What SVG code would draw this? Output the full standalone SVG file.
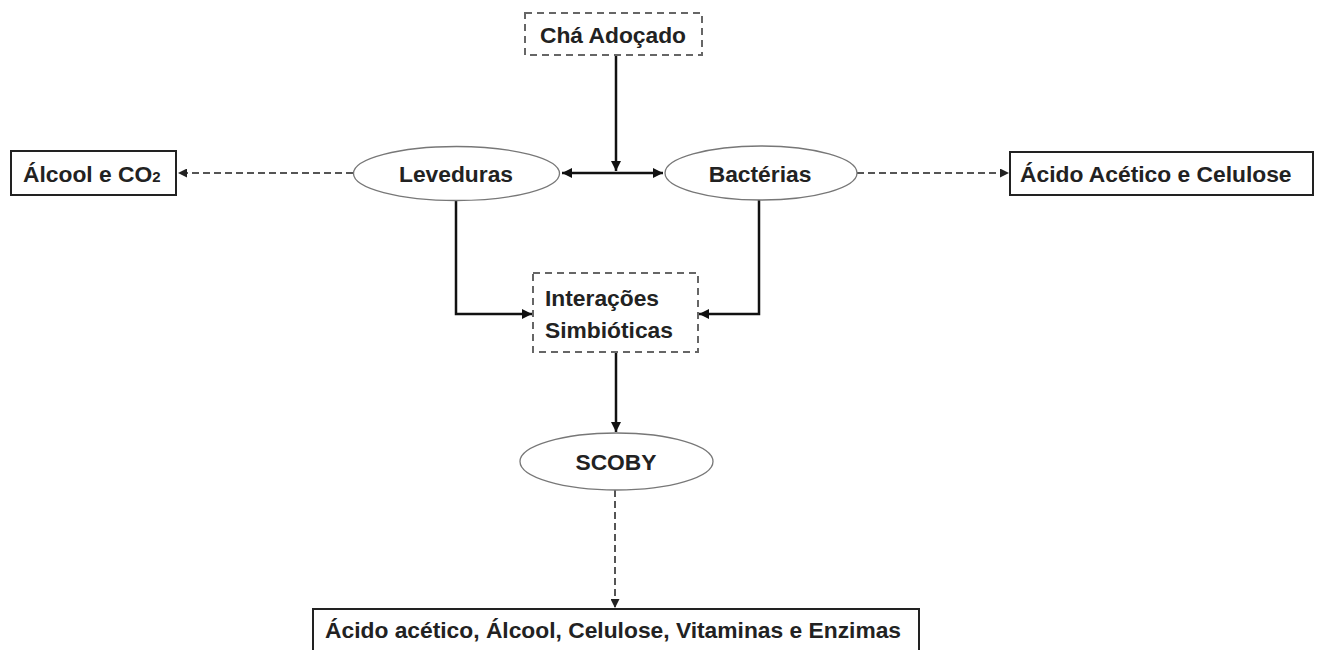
<svg xmlns="http://www.w3.org/2000/svg" width="1322" height="650" viewBox="0 0 1322 650">
<style>
.t{font-family:"Liberation Sans",Arial,sans-serif;font-weight:bold;font-size:22.8px;fill:#222}
.box{fill:#fff;stroke:#222;stroke-width:2}
.dbox{fill:#fff;stroke:#666;stroke-width:2;stroke-dasharray:7 5}
.ell{fill:#fff;stroke:#777;stroke-width:1.3}
.solid{fill:none;stroke:#111;stroke-width:2.5}
.dash{fill:none;stroke:#555;stroke-width:2;stroke-dasharray:7 4}
</style>
<defs>
<marker id="ah" viewBox="0 0 10 10" refX="10" refY="5" markerWidth="4" markerHeight="4" orient="auto" markerUnits="strokeWidth">
<path d="M0,0 L10,5 L0,10 z" fill="#111"/>
</marker>
<marker id="ahd" viewBox="0 0 10 10" refX="10" refY="5" markerWidth="4.5" markerHeight="4.5" orient="auto" markerUnits="strokeWidth">
<path d="M0,0 L10,5 L0,10 z" fill="#222"/>
</marker>
</defs>
<rect width="1322" height="650" fill="#fff"/>
<g id="connectors">
<path class="solid" d="M616,55 V171" marker-end="url(#ah)"/>
<path class="solid" d="M616,173 H562" marker-end="url(#ah)"/>
<path class="solid" d="M616,173 H663" marker-end="url(#ah)"/>
<path class="solid" d="M456,200 V314 H532" marker-end="url(#ah)"/>
<path class="solid" d="M759,200 V314 H699" marker-end="url(#ah)"/>
<path class="solid" d="M616,352 V432" marker-end="url(#ah)"/>
<path class="dash" d="M353,173 H178" marker-end="url(#ahd)"/>
<path class="dash" d="M857,173 H1009" marker-end="url(#ahd)"/>
<path class="dash" d="M615,490 V608" marker-end="url(#ahd)"/>
</g>
<g id="cha">
<rect class="dbox" x="525" y="13" width="177" height="42"/>
<text class="t" x="613" y="43" text-anchor="middle">Chá Adoçado</text>
</g>
<g id="leveduras">
<ellipse class="ell" cx="456.5" cy="173.5" rx="103" ry="27"/>
<text class="t" x="456" y="181.5" text-anchor="middle">Leveduras</text>
</g>
<g id="bacterias">
<ellipse class="ell" cx="761" cy="173" rx="96" ry="27"/>
<text class="t" x="760" y="181.5" text-anchor="middle">Bactérias</text>
</g>
<g id="alcool">
<rect class="box" x="11" y="151" width="165" height="44"/>
<text class="t" x="23" y="182">Álcool e CO<tspan font-size="15">2</tspan></text>
</g>
<g id="acido">
<rect class="box" x="1010" y="152" width="303" height="43"/>
<text class="t" x="1020" y="182">Ácido Acético e Celulose</text>
</g>
<g id="interacoes">
<rect class="dbox" x="533" y="273" width="165" height="79"/>
<text class="t" x="545" y="306">Interações</text>
<text class="t" x="545" y="338">Simbióticas</text>
</g>
<g id="scoby">
<ellipse class="ell" cx="616.5" cy="461.5" rx="96.5" ry="28.5"/>
<text class="t" x="616" y="470" text-anchor="middle">SCOBY</text>
</g>
<g id="produtos">
<rect class="box" x="313" y="609" width="606" height="50"/>
<text class="t" x="325" y="638">Ácido acético, Álcool, Celulose, Vitaminas e Enzimas</text>
</g>
</svg>
